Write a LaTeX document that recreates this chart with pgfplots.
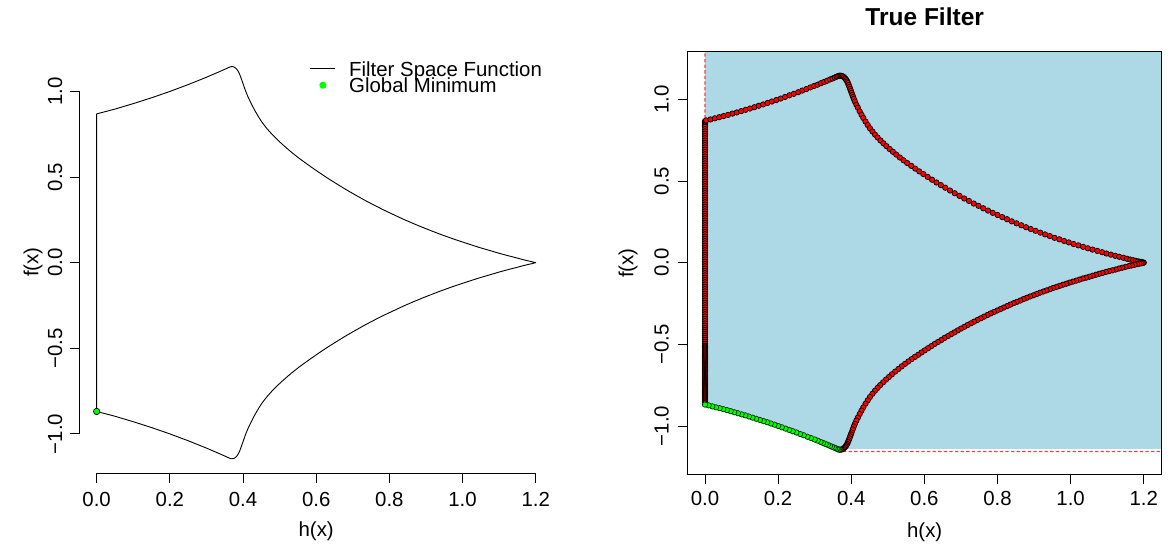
\documentclass[border=0pt]{standalone}
\usepackage{fontspec}
\setmainfont{Liberation Sans}
\usepackage{pgfplots}
\pgfplotsset{compat=1.18}
\definecolor{lblue}{HTML}{ADD8E6}
\definecolor{rgreen}{HTML}{00FF00}
\definecolor{dashred}{RGB}{255,60,60}
\newcommand{\fsz}{\fontsize{20.4}{24}\selectfont}
\begin{document}
\fsz
\begin{tikzpicture}
\useasboundingbox (0,0) rectangle (1171pt,545pt);
\pgfplotsset{
  rstyle/.style={
    scale only axis, width=474.2pt, height=422.5pt, anchor=south west,
    xmin=-0.048, xmax=1.248,
    xtick={0,0.2,0.4,0.6,0.8,1,1.2},
    xticklabels={0.0,0.2,0.4,0.6,0.8,1.0,1.2},
    ytick={-1,-0.5,0,0.5,1},
    yticklabels={−1.0,−0.5,0.0,0.5,1.0},
    tick align=outside, major tick length=9.5pt,
    tick style={black, line width=0.9pt},
    xtick pos=left, ytick pos=left,
    tick label style={font=\fsz},
    label style={font=\fsz},
    every axis x label/.style={at={(axis description cs:0.5,0)}, anchor=center, yshift=-58pt},
  }
}
% ---------------- left panel ----------------
\begin{axis}[rstyle, at={(79.1pt,71.5pt)},
  ymin=-1.2314, ymax=1.2364,
  axis x line*=bottom, axis y line*=left, axis line style={draw=none},
  clip=false,
  xticklabel style={anchor=center, yshift=-16pt},
  yticklabel style={xshift=-14.5pt, rotate=90, anchor=center},
  xlabel={h(x)}, ylabel={f(x)},
  every axis y label/.style={at={(axis description cs:0,0.5)}, xshift=-46pt, rotate=90, anchor=center},
  legend style={at={(0.4869,0.9628)}, anchor=north west, draw=none, fill=none,
    inner sep=0pt, outer sep=0pt, row sep=5.0pt,
    nodes={inner sep=0pt, outer sep=0pt, text height=10pt, text depth=0pt, font=\fsz},
    /tikz/every odd column/.append style={column sep=13.3pt}},
  legend cell align=left,
]
\addplot[black, line width=0.9pt, line join=round,
  legend image code/.code={\draw[black, line width=0.9pt] (0pt,3.4pt) -- (25pt,3.4pt);}]
coordinates {
(0,-0.869)(0.05,-0.897)(0.10,-0.929)(0.15,-0.963)(0.20,-1.000)(0.25,-1.040)(0.30,-1.083)(0.337,-1.117)(0.355,-1.134)(0.364,-1.143)(0.368,-1.145)(0.371,-1.145)(0.374,-1.144)(0.377,-1.141)(0.380,-1.136)(0.383,-1.130)(0.385,-1.124)(0.387,-1.117)(0.389,-1.109)(0.391,-1.099)(0.393,-1.088)(0.395,-1.076)(0.397,-1.064)(0.399,-1.052)(0.401,-1.040)(0.404,-1.021)(0.407,-1.003)(0.410,-0.987)(0.414,-0.967)(0.418,-0.949)(0.423,-0.927)(0.428,-0.906)(0.433,-0.886)(0.439,-0.864)(0.445,-0.843)(0.451,-0.823)(0.458,-0.803)(0.465,-0.784)(0.472,-0.767)(0.480,-0.748)(0.488,-0.731)(0.496,-0.714)(0.505,-0.696)(0.514,-0.679)(0.523,-0.662)(0.533,-0.644)(0.543,-0.627)(0.553,-0.610)(0.564,-0.593)(0.575,-0.576)(0.586,-0.559)(0.597,-0.543)(0.609,-0.525)(0.621,-0.508)(0.633,-0.491)(0.645,-0.475)(0.657,-0.459)(0.670,-0.442)(0.683,-0.425)(0.696,-0.409)(0.709,-0.393)(0.735,-0.362)(0.761,-0.333)(0.787,-0.305)(0.813,-0.279)(0.839,-0.253)(0.865,-0.229)(0.891,-0.206)(0.917,-0.184)(0.943,-0.163)(0.969,-0.143)(0.995,-0.124)(1.021,-0.106)(1.047,-0.088)(1.073,-0.072)(1.098,-0.056)(1.122,-0.042)(1.144,-0.030)(1.163,-0.019)(1.178,-0.011)(1.189,-0.006)(1.196,-0.002)(1.200,0)
(1.196,0.002)(1.189,0.006)(1.178,0.011)(1.163,0.019)(1.144,0.030)(1.122,0.042)(1.098,0.056)(1.073,0.072)(1.047,0.088)(1.021,0.106)(0.995,0.124)(0.969,0.143)(0.943,0.163)(0.917,0.184)(0.891,0.206)(0.865,0.229)(0.839,0.253)(0.813,0.279)(0.787,0.305)(0.761,0.333)(0.735,0.362)(0.709,0.393)(0.696,0.409)(0.683,0.425)(0.670,0.442)(0.657,0.459)(0.645,0.475)(0.633,0.491)(0.621,0.508)(0.609,0.525)(0.597,0.543)(0.586,0.559)(0.575,0.576)(0.564,0.593)(0.553,0.610)(0.543,0.627)(0.533,0.644)(0.523,0.662)(0.514,0.679)(0.505,0.696)(0.496,0.714)(0.488,0.731)(0.480,0.748)(0.472,0.767)(0.465,0.784)(0.458,0.803)(0.451,0.823)(0.445,0.843)(0.439,0.864)(0.433,0.886)(0.428,0.906)(0.423,0.927)(0.418,0.949)(0.414,0.967)(0.410,0.987)(0.407,1.003)(0.404,1.021)(0.401,1.040)(0.399,1.052)(0.397,1.064)(0.395,1.076)(0.393,1.088)(0.391,1.099)(0.389,1.109)(0.387,1.117)(0.385,1.124)(0.383,1.130)(0.380,1.136)(0.377,1.141)(0.374,1.144)(0.371,1.145)(0.368,1.145)(0.364,1.143)(0.355,1.134)(0.337,1.117)(0.30,1.083)(0.25,1.040)(0.20,1.000)(0.15,0.963)(0.10,0.929)(0.05,0.897)(0,0.869)(0,-0.869)
};
\addlegendentry{Filter Space Function}
\addplot[forget plot, only marks, mark=*, mark size=3.2pt, mark options={fill=rgreen, draw=black, line width=0.7pt}] coordinates {(0,-0.869)};
\addlegendimage{legend image code/.code={\fill[rgreen] (12.5pt,2.3pt) circle (3.3pt);}}
\addlegendentry{Global Minimum}
\draw[black, line width=0.9pt] (axis cs:0,-1.2314) -- (axis cs:1.2,-1.2314);
\draw[black, line width=0.9pt] (axis cs:-0.048,-1) -- (axis cs:-0.048,1);
\end{axis}
% ---------------- right panel ----------------
\begin{axis}[rstyle, at={(687.7pt,70.7pt)}, width=474pt, height=422.6pt,
  xmin=-0.0473, xmax=1.249, ymin=-1.296, ymax=1.292,
  axis line style={black, line width=0.9pt},
  axis on top,
  xticklabel style={anchor=center, yshift=-14.7pt},
  yticklabel style={xshift=-16.5pt, rotate=90, anchor=center},
  xlabel={h(x)}, ylabel={f(x)},
  every axis y label/.style={at={(axis description cs:0,0.5)}, xshift=-59.7pt, rotate=90, anchor=center},
  title={True Filter},
  title style={at={(axis description cs:0.5,1)}, anchor=center, yshift=29pt, font=\fontsize{24.5}{28}\selectfont\bfseries},
]
\addplot[draw=none, fill=lblue] coordinates {
(0,1.4)(0,-0.869)(0.05,-0.897)(0.10,-0.929)(0.15,-0.963)(0.20,-1.000)(0.25,-1.040)(0.30,-1.083)(0.337,-1.117)(0.355,-1.134)(0.365,-1.140)(1.3,-1.140)(1.3,1.4)} -- cycle;
\addplot[dashred, line width=1.3pt, dash pattern=on 3.3pt off 2.3pt] coordinates {
(0,1.35)(0,-0.879)(0.05,-0.907)(0.10,-0.939)(0.15,-0.973)(0.20,-1.010)(0.25,-1.050)(0.30,-1.093)(0.337,-1.127)(0.36,-1.149)(0.37,-1.157)(1.3,-1.157)};
% vertical segment at h = 0
\addplot[only marks, mark=*, mark size=2.7pt, mark options={fill=red, draw=black, line width=0.7pt}] coordinates {
(0,0.866)(0,0.863)(0,0.860)(0,0.853)(0,0.846)(0,0.839)(0,0.832)(0,0.818)(0,0.804)(0,0.790)(0,0.776)(0,0.762)(0,0.748)(0,0.734)(0,0.720)(0,0.706)(0,0.692)(0,0.678)(0,0.664)(0,0.650)(0,0.636)(0,0.622)(0,0.608)(0,0.594)(0,0.580)(0,0.566)(0,0.552)(0,0.538)(0,0.524)(0,0.510)(0,0.496)(0,0.482)(0,0.468)(0,0.454)(0,0.440)(0,0.426)(0,0.412)(0,0.398)(0,0.384)(0,0.370)(0,0.356)(0,0.342)(0,0.328)(0,0.314)(0,0.300)(0,0.286)(0,0.272)(0,0.258)(0,0.244)(0,0.230)(0,0.216)(0,0.202)(0,0.188)(0,0.174)(0,0.160)(0,0.146)(0,0.132)(0,0.118)(0,0.104)(0,0.090)(0,0.076)(0,0.062)(0,0.048)(0,0.034)(0,0.020)(0,0.006)(0,-0.008)(0,-0.022)(0,-0.036)(0,-0.050)(0,-0.064)(0,-0.078)(0,-0.092)(0,-0.106)(0,-0.120)(0,-0.134)(0,-0.148)(0,-0.162)(0,-0.176)(0,-0.190)(0,-0.204)(0,-0.218)(0,-0.232)(0,-0.246)(0,-0.260)(0,-0.274)(0,-0.288)(0,-0.302)(0,-0.316)(0,-0.330)(0,-0.344)(0,-0.358)(0,-0.372)(0,-0.386)(0,-0.400)(0,-0.412)(0,-0.424)(0,-0.436)(0,-0.448)(0,-0.460)(0,-0.472)(0,-0.484)(0,-0.496)
(0,-0.508)(0,-0.514)(0,-0.520)(0,-0.526)(0,-0.532)(0,-0.538)(0,-0.544)(0,-0.550)(0,-0.556)(0,-0.562)(0,-0.568)(0,-0.574)(0,-0.580)(0,-0.586)(0,-0.592)(0,-0.598)(0,-0.604)(0,-0.610)(0,-0.616)(0,-0.622)(0,-0.628)(0,-0.634)(0,-0.640)(0,-0.646)(0,-0.652)(0,-0.658)(0,-0.664)(0,-0.670)(0,-0.676)(0,-0.682)(0,-0.688)(0,-0.694)(0,-0.700)(0,-0.706)(0,-0.712)(0,-0.718)(0,-0.724)(0,-0.730)(0,-0.736)(0,-0.742)(0,-0.748)(0,-0.754)(0,-0.760)(0,-0.766)(0,-0.772)(0,-0.778)(0,-0.784)(0,-0.790)(0,-0.796)(0,-0.802)(0,-0.808)(0,-0.814)(0,-0.820)(0,-0.826)(0,-0.832)(0,-0.838)(0,-0.844)(0,-0.850)(0,-0.856)(0,-0.862)
};
% upper branch
\addplot[only marks, mark=*, mark size=2.7pt, mark options={fill=red, draw=black, line width=0.7pt}] coordinates {
(0.003,0.871)(0.015,0.877)(0.027,0.884)(0.039,0.891)(0.051,0.898)(0.063,0.905)(0.075,0.913)(0.087,0.920)(0.099,0.928)(0.111,0.936)(0.123,0.944)(0.135,0.952)(0.147,0.961)(0.159,0.969)(0.171,0.978)(0.183,0.987)(0.195,0.996)(0.207,1.005)(0.219,1.015)(0.231,1.025)(0.243,1.034)(0.255,1.044)(0.266,1.054)(0.277,1.063)(0.288,1.073)(0.298,1.082)(0.308,1.090)(0.317,1.099)(0.326,1.107)(0.334,1.114)(0.342,1.122)(0.349,1.128)(0.355,1.134)(0.360,1.139)(0.364,1.143)(0.368,1.145)(0.371,1.145)(0.374,1.144)(0.377,1.141)(0.380,1.136)(0.383,1.130)(0.385,1.124)(0.387,1.117)(0.389,1.109)(0.391,1.099)(0.393,1.088)(0.395,1.076)(0.397,1.064)(0.399,1.052)(0.401,1.040)(0.403,1.027)(0.405,1.015)(0.407,1.003)(0.410,0.987)(0.414,0.967)(0.418,0.949)(0.423,0.927)(0.428,0.906)(0.433,0.886)(0.439,0.864)(0.445,0.843)(0.451,0.823)(0.458,0.803)(0.465,0.784)(0.472,0.767)(0.480,0.748)(0.488,0.731)(0.496,0.714)(0.505,0.696)(0.514,0.679)(0.523,0.662)(0.533,0.644)(0.543,0.627)(0.553,0.610)(0.564,0.593)(0.575,0.576)(0.586,0.559)(0.597,0.543)(0.609,0.525)(0.621,0.508)(0.633,0.491)(0.645,0.475)(0.657,0.459)(0.670,0.442)(0.683,0.425)(0.696,0.409)(0.709,0.393)(0.722,0.378)(0.735,0.362)(0.748,0.348)(0.761,0.333)(0.774,0.319)(0.787,0.305)(0.800,0.292)(0.813,0.279)(0.826,0.266)(0.839,0.253)(0.852,0.241)(0.865,0.229)(0.878,0.217)(0.891,0.206)(0.904,0.195)(0.917,0.184)(0.930,0.173)(0.943,0.163)(0.956,0.152)(0.969,0.143)(0.982,0.133)(0.995,0.124)(1.008,0.114)(1.021,0.106)(1.034,0.097)(1.047,0.088)(1.060,0.080)(1.073,0.072)(1.086,0.064)(1.098,0.056)(1.110,0.049)(1.122,0.042)(1.133,0.036)(1.144,0.030)(1.154,0.024)(1.163,0.019)(1.171,0.015)(1.178,0.011)(1.184,0.008)(1.189,0.006)(1.193,0.004)(1.196,0.002)(1.198,0.001)(1.200,0.000)
};
% lower branch (right part)
\addplot[only marks, mark=*, mark size=2.7pt, mark options={fill=red, draw=black, line width=0.7pt}] coordinates {
(1.197,-0.002)(1.193,-0.004)(1.188,-0.006)(1.182,-0.009)(1.175,-0.013)(1.167,-0.017)(1.159,-0.021)(1.150,-0.026)(1.141,-0.031)(1.132,-0.036)(1.123,-0.042)(1.114,-0.047)(1.105,-0.052)(1.096,-0.057)(1.087,-0.063)(1.078,-0.068)(1.069,-0.074)(1.060,-0.080)(1.051,-0.086)(1.042,-0.092)(1.033,-0.097)(1.024,-0.104)(1.015,-0.110)(1.006,-0.116)(0.997,-0.122)(0.988,-0.129)(0.979,-0.135)(0.970,-0.142)(0.961,-0.149)(0.952,-0.155)(0.943,-0.163)(0.934,-0.170)(0.925,-0.177)(0.916,-0.184)(0.907,-0.192)(0.898,-0.200)(0.889,-0.207)(0.880,-0.215)(0.871,-0.223)(0.862,-0.232)(0.853,-0.240)(0.844,-0.248)(0.835,-0.257)(0.826,-0.266)(0.817,-0.275)(0.808,-0.284)(0.799,-0.293)(0.790,-0.302)(0.781,-0.311)(0.772,-0.321)(0.763,-0.331)(0.754,-0.341)(0.745,-0.351)(0.736,-0.361)(0.727,-0.372)(0.718,-0.382)(0.709,-0.393)(0.700,-0.404)(0.691,-0.415)(0.682,-0.427)(0.673,-0.438)(0.664,-0.450)(0.655,-0.461)(0.646,-0.474)(0.637,-0.486)(0.628,-0.498)(0.619,-0.511)(0.610,-0.524)(0.601,-0.537)(0.592,-0.550)(0.583,-0.564)(0.574,-0.577)(0.565,-0.591)(0.556,-0.605)(0.547,-0.620)(0.538,-0.635)(0.529,-0.651)(0.520,-0.667)(0.511,-0.684)(0.503,-0.700)(0.495,-0.716)(0.487,-0.733)(0.479,-0.750)(0.472,-0.767)(0.465,-0.784)(0.458,-0.803)(0.451,-0.823)(0.445,-0.843)(0.439,-0.864)(0.433,-0.886)(0.428,-0.906)(0.423,-0.927)(0.418,-0.949)(0.414,-0.967)(0.410,-0.987)(0.407,-1.003)(0.404,-1.021)(0.401,-1.040)(0.399,-1.052)(0.397,-1.064)(0.395,-1.076)(0.393,-1.088)(0.391,-1.099)(0.389,-1.109)(0.387,-1.117)(0.385,-1.124)(0.383,-1.130)(0.380,-1.136)(0.377,-1.141)(0.374,-1.144)(0.371,-1.145)
};
% lower-left branch (non-dominated, green)
\addplot[only marks, mark=*, mark size=2.7pt, mark options={fill=rgreen, draw=black!80!green, line width=0.7pt}] coordinates {
(0.368,-1.145)(0.366,-1.145)(0.363,-1.142)(0.360,-1.139)(0.356,-1.135)(0.352,-1.131)(0.347,-1.127)(0.342,-1.122)(0.336,-1.116)(0.330,-1.111)(0.323,-1.104)(0.316,-1.098)(0.308,-1.090)(0.300,-1.083)(0.290,-1.074)(0.280,-1.066)(0.270,-1.057)(0.260,-1.049)(0.250,-1.040)(0.240,-1.032)(0.230,-1.024)(0.220,-1.016)(0.210,-1.008)(0.200,-1.000)(0.190,-0.992)(0.180,-0.985)(0.170,-0.977)(0.160,-0.970)(0.150,-0.963)(0.140,-0.956)(0.130,-0.949)(0.120,-0.942)(0.110,-0.935)(0.100,-0.929)(0.090,-0.922)(0.080,-0.916)(0.070,-0.909)(0.060,-0.903)(0.050,-0.897)(0.040,-0.891)(0.030,-0.886)(0.020,-0.880)(0.010,-0.874)(0.000,-0.869)
};
\end{axis}
\end{tikzpicture}
\end{document}
